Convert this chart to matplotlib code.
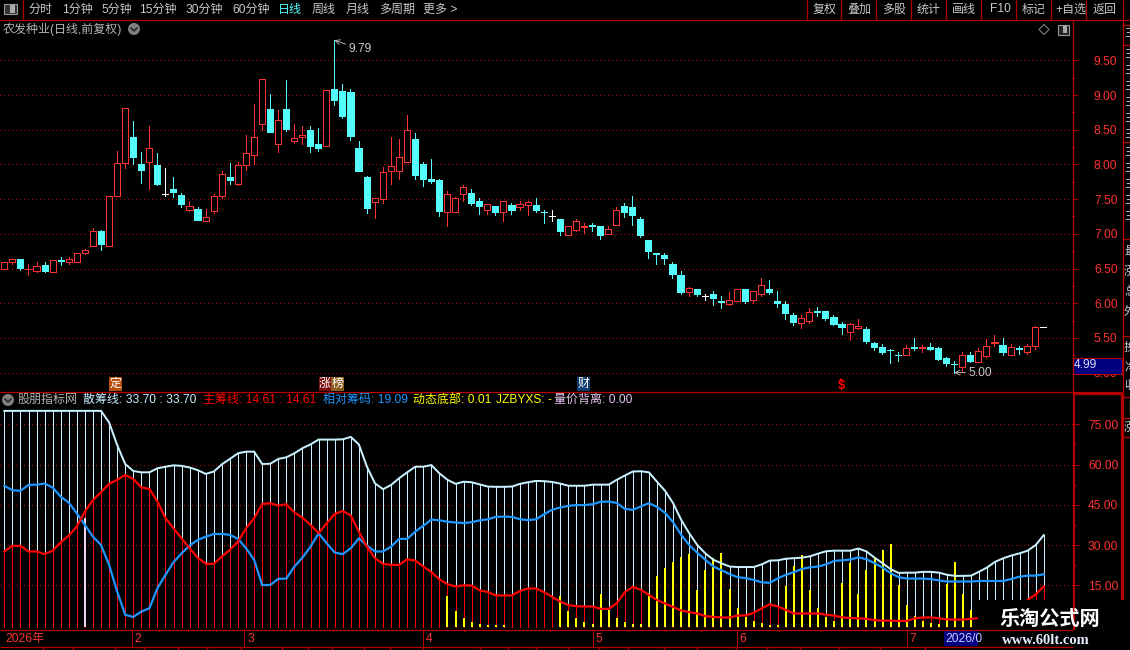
#!/usr/bin/env python3
# -*- coding: utf-8 -*-

import numpy as np
from matplotlib import pyplot as plt
from matplotlib.patches import Rectangle, Circle, Polygon

plt.rcParams['font.family'] = ['Liberation Sans', 'Noto Sans CJK SC']

W, H = 1130, 650

opens = [6.49, 6.60, 6.64, 6.49, 6.47, 6.55, 6.45, 6.62, 6.60, 6.60,
         6.72, 6.82, 7.04, 6.83, 7.54, 8.02, 8.40, 8.01, 8.04, 7.99,
         7.58, 7.64, 7.56, 7.35, 7.36, 7.19, 7.33, 7.55, 7.82, 7.72,
         7.99, 8.14, 8.58, 8.80, 8.29, 8.80, 8.34, 8.39, 8.50, 8.29,
         8.27, 9.09, 9.06, 9.04, 8.24, 7.82, 7.46, 7.50, 7.91, 7.91,
         8.03, 8.37, 8.01, 7.79, 7.78, 7.32, 7.32, 7.58, 7.59, 7.48,
         7.34, 7.40, 7.31, 7.42, 7.39, 7.41, 7.41, 7.32, 7.25, 7.21,
         6.98, 7.05, 7.10, 7.12, 7.11, 7.00, 7.13, 7.40, 7.38, 7.21,
         6.91, 6.72, 6.69, 6.56, 6.40, 6.16, 6.20, 6.11, 6.13, 6.03,
         5.99, 6.03, 6.20, 6.04, 6.13, 6.20, 6.03, 5.99, 5.83, 5.71,
         5.75, 5.89, 5.89, 5.80, 5.70, 5.59, 5.65, 5.63, 5.43, 5.37,
         5.33, 5.26, 5.25, 5.37, 5.35, 5.37, 5.36, 5.21, 5.13, 5.08,
         5.26, 5.16, 5.24, 5.42, 5.40, 5.26, 5.35, 5.30, 5.39, 5.66]
closes = [6.60, 6.63, 6.51, 6.50, 6.53, 6.47, 6.62, 6.61, 6.64, 6.73,
          6.76, 7.04, 6.85, 7.54, 8.02, 8.82, 8.11, 7.92, 8.23, 7.72,
          7.58, 7.60, 7.43, 7.40, 7.20, 7.24, 7.54, 7.86, 7.78, 7.99,
          8.17, 8.39, 9.23, 8.47, 8.64, 8.51, 8.38, 8.43, 8.27, 8.24,
          9.07, 8.93, 8.70, 8.41, 7.91, 7.37, 7.51, 7.89, 7.97, 8.10,
          8.49, 7.85, 7.79, 7.76, 7.33, 7.58, 7.51, 7.67, 7.44, 7.40,
          7.43, 7.31, 7.47, 7.34, 7.43, 7.46, 7.34, 7.31, 7.25, 7.04,
          7.11, 7.18, 7.11, 7.11, 6.98, 7.07, 7.35, 7.31, 7.27, 6.98,
          6.75, 6.71, 6.65, 6.42, 6.16, 6.22, 6.13, 6.11, 6.07, 6.02,
          6.05, 6.20, 6.03, 6.17, 6.26, 6.16, 6.01, 5.86, 5.73, 5.78,
          5.88, 5.88, 5.79, 5.70, 5.66, 5.70, 5.67, 5.46, 5.37, 5.30,
          5.32, 5.25, 5.35, 5.36, 5.37, 5.34, 5.20, 5.14, 5.12, 5.25,
          5.17, 5.31, 5.39, 5.44, 5.30, 5.37, 5.34, 5.39, 5.66, 5.66]
highs = [6.60, 6.63, 6.64, 6.57, 6.59, 6.60, 6.62, 6.67, 6.66, 6.73,
         6.78, 7.08, 7.06, 7.54, 8.19, 8.82, 8.63, 8.18, 8.55, 8.16,
         7.95, 7.82, 7.59, 7.47, 7.39, 7.36, 7.57, 7.90, 8.02, 8.03,
         8.43, 8.87, 9.23, 9.01, 8.78, 9.22, 8.58, 8.55, 8.55, 8.52,
         9.07, 9.79, 9.16, 9.09, 8.34, 7.83, 7.51, 7.96, 8.40, 8.37,
         8.71, 8.45, 8.04, 8.08, 7.79, 7.62, 7.53, 7.70, 7.65, 7.52,
         7.43, 7.40, 7.47, 7.44, 7.47, 7.47, 7.51, 7.34, 7.34, 7.22,
         7.11, 7.21, 7.15, 7.15, 7.11, 7.11, 7.38, 7.45, 7.54, 7.24,
         6.91, 6.73, 6.72, 6.59, 6.46, 6.24, 6.21, 6.13, 6.18, 6.11,
         6.16, 6.20, 6.20, 6.17, 6.37, 6.34, 6.18, 6.03, 5.86, 5.83,
         5.93, 5.95, 5.89, 5.83, 5.73, 5.72, 5.77, 5.66, 5.44, 5.41,
         5.34, 5.30, 5.40, 5.50, 5.40, 5.43, 5.37, 5.23, 5.17, 5.30,
         5.30, 5.36, 5.49, 5.54, 5.50, 5.41, 5.39, 5.41, 5.67, 5.66]
lows = [6.49, 6.56, 6.48, 6.41, 6.45, 6.45, 6.45, 6.55, 6.57, 6.60,
        6.71, 6.82, 6.77, 6.83, 7.54, 7.95, 8.01, 7.73, 7.65, 7.70,
        7.55, 7.53, 7.39, 7.33, 7.20, 7.19, 7.30, 7.52, 7.72, 7.71,
        7.92, 8.00, 8.49, 8.47, 8.18, 8.48, 8.31, 8.29, 8.18, 8.19,
        8.27, 8.86, 8.67, 8.35, 7.91, 7.30, 7.23, 7.44, 7.72, 7.79,
        8.03, 7.79, 7.69, 7.73, 7.26, 7.11, 7.32, 7.47, 7.42, 7.29,
        7.28, 7.27, 7.19, 7.28, 7.34, 7.27, 7.31, 7.16, 7.18, 6.98,
        6.98, 7.04, 7.01, 7.04, 6.93, 7.00, 7.13, 7.24, 7.12, 6.96,
        6.65, 6.56, 6.56, 6.36, 6.14, 6.10, 6.10, 6.04, 5.98, 5.93,
        5.97, 6.03, 6.00, 6.00, 6.10, 6.13, 5.95, 5.77, 5.69, 5.64,
        5.72, 5.82, 5.76, 5.69, 5.56, 5.47, 5.63, 5.43, 5.33, 5.27,
        5.14, 5.17, 5.25, 5.33, 5.30, 5.33, 5.18, 5.10, 5.00, 5.02,
        5.15, 5.15, 5.23, 5.39, 5.26, 5.26, 5.27, 5.27, 5.34, 5.66]

# 散筹线
scatter_line = [80, 80, 80, 80, 80, 80, 80, 80, 80, 80,
                80, 80, 80, 75.7, 67.3, 60.2, 57.6, 57.1, 57.1, 58.6,
                59.2, 59.7, 59.5, 58.9, 57.9, 56.5, 57.4, 60.1, 62.1, 64.2,
                64.8, 64.8, 60.2, 60.3, 62.1, 62.7, 64.2, 66.1, 67.5, 69.3,
                69.3, 69.3, 69.4, 70.3, 67.5, 59.2, 53.0, 50.8, 52.4, 54.9,
                57.1, 59.2, 59.2, 59.8, 56.7, 54.3, 52.8, 53.6, 53.4, 52.6,
                51.8, 51.7, 51.7, 51.8, 52.8, 53.4, 53.9, 53.8, 53.5, 52.9,
                52.1, 52.1, 52.1, 52.5, 52.5, 52.5, 54.3, 55.9, 57.4, 57.5,
                57.1, 53.6, 50.2, 45.6, 39.4, 34.4, 30.0, 26.9, 24.5, 23.2,
                22.0, 21.8, 21.8, 21.8, 22.8, 24.2, 24.3, 24.9, 25.1, 25.3,
                25.8, 26.8, 27.7, 27.9, 27.9, 27.9, 28.7, 27.6, 25.3, 23.2,
                21.0, 19.6, 19.7, 19.7, 20.0, 20.0, 19.7, 18.9, 18.5, 18.5,
                18.6, 20.1, 21.7, 23.8, 25.1, 26.1, 26.9, 27.9, 30.0, 33.7]
# 主筹线
main_line = [27.6, 29.7, 29.7, 27.6, 27.6, 26.6, 27.9, 31.0, 33.5, 36.9,
             42.5, 46.8, 49.7, 52.8, 54.3, 56.1, 54.6, 51.5, 50.9, 46.2,
             40.0, 36.2, 32.5, 28.8, 25.3, 23.0, 23.0, 25.7, 28.2, 31.3,
             36.2, 40.0, 45.3, 45.6, 44.7, 45.2, 42.1, 40.2, 37.5, 34.4,
             38.1, 41.6, 42.7, 41.0, 35.0, 29.4, 25.1, 23.0, 22.6, 22.6,
             24.7, 24.2, 22.0, 19.9, 17.2, 15.4, 14.5, 15.0, 14.9, 13.1,
             12.5, 11.2, 11.2, 11.2, 12.9, 13.8, 13.8, 12.4, 10.7, 8.9,
             7.6, 7.2, 7.1, 7.1, 6.2, 6.2, 8.3, 12.4, 14.4, 13.3,
             11.4, 9.5, 8.2, 6.9, 5.6, 5.0, 4.5, 3.5, 3.2, 3.0,
             3.0, 3.7, 3.8, 4.7, 6.4, 7.9, 7.1, 5.8, 4.5, 4.5,
             4.5, 4.5, 4.0, 3.7, 3.0, 2.8, 2.7, 2.5, 2.0, 1.8,
             1.8, 1.7, 1.7, 2.7, 3.0, 3.0, 2.7, 2.3, 2.2, 2.2,
             2.5, 2.8, 3.0, 3.6, 4.5, 5.8, 7.5, 9.5, 11.6, 14.61]
# 相对筹码
relative_line = [52.1, 50.4, 50.2, 52.4, 52.5, 52.9, 51.4, 48.0, 45.8, 41.8,
                 37.5, 33.1, 30.0, 22.6, 12.7, 4.0, 3.2, 5.2, 6.4, 13.9,
                 18.9, 23.6, 26.9, 29.8, 31.9, 33.1, 34.1, 34.1, 33.8, 32.3,
                 28.8, 24.5, 15.1, 15.1, 17.4, 17.5, 22.0, 25.3, 29.4, 34.4,
                 30.7, 27.2, 26.6, 28.8, 32.5, 29.8, 27.6, 27.6, 29.4, 32.3,
                 32.3, 35.0, 37.2, 39.5, 39.2, 38.7, 38.4, 38.2, 38.5, 39.2,
                 39.6, 40.5, 40.6, 40.5, 39.6, 39.3, 39.6, 41.5, 43.2, 44.0,
                 44.6, 44.9, 44.9, 45.2, 46.1, 46.2, 45.7, 43.5, 43.1, 44.4,
                 45.6, 44.2, 42.0, 38.5, 33.8, 30.0, 27.1, 24.5, 22.0, 20.6,
                 19.2, 18.0, 17.7, 17.0, 16.1, 15.9, 17.6, 18.9, 19.9, 21.1,
                 21.7, 22.0, 22.8, 24.1, 24.3, 24.6, 25.4, 24.7, 23.2, 21.6,
                 19.5, 18.0, 17.5, 17.5, 17.5, 17.3, 16.8, 16.4, 16.4, 16.4,
                 16.4, 16.6, 16.6, 16.6, 16.6, 17.4, 18.2, 18.6, 18.6, 19.09]
# 动态底部
bottom_bars = [0, 0, 0, 0, 0, 0, 0, 0, 0, 0,
               0, 0, 0, 0, 0, 0, 0, 0, 0, 0,
               0, 0, 0, 0, 0, 0, 0, 0, 0, 0,
               0, 0, 0, 0, 0, 0, 0, 0, 0, 0,
               0, 0, 0, 0, 0, 0, 0, 0, 0, 0,
               0, 0, 0, 0, 0, 11.0, 5.4, 2.8, 1.3, 0.6,
               0.2, 0.2, 0.2, 0, 0, 0, 0, 0, 0, 11.0,
               5.4, 2.8, 1.3, 0.6, 11.8, 5.8, 2.8, 1.3, 0.6, 0.5,
               12.2, 18.5, 21.5, 23.7, 25.6, 26.7, 13.3, 20.7, 25.2, 27.1,
               13.6, 6.6, 3.2, 1.7, 1.0, 0.2, 0.2, 14.8, 22.2, 26.3,
               13.3, 6.6, 3.2, 1.7, 15.9, 23.3, 11.8, 20.7, 25.6, 28.2,
               30.4, 15.1, 7.7, 3.6, 1.7, 1.0, 0.6, 15.5, 23.7, 11.8,
               5.8, 0, 0, 0, 0, 0, 0, 0, 0, 0]
# 量价背离
divergence_index = [10]
divergence_value = [40.0]

price_ticks = [5.0, 5.5, 6.0, 6.5, 7.0, 7.5, 8.0, 8.5, 9.0, 9.5]
price_minor = [5.25, 5.75, 6.25, 6.75, 7.25, 7.75, 8.25, 8.75, 9.25]
chip_ticks = [15, 30, 45, 60, 75]
chip_minor = [22.5, 37.5, 52.5, 67.5]

month_pos = [15.8, 29.8, 51.9, 73.0, 90.9, 112.0]
month_labels = ['2', '3', '4', '5', '6', '7']
week_pos = [19.2, 22.8, 26.3, 35.4, 40.8, 46.4, 57.1, 62.4, 67.7, 77.4, 82.0, 86.5, 96.1, 101.4, 106.8]

tools_left = ['分时', '1分钟', '5分钟', '15分钟', '30分钟', '60分钟', '日线', '周线', '月线', '多周期', '更多 >']
tools_left_x = [28, 62, 101, 139, 186, 232, 278, 312, 346, 379, 423]
tools_right = ['复权', '叠加', '多股', '统计', '画线', 'F10', '标记', '+自选', '返回']
tools_right_x = [813, 847, 882, 917, 952, 990, 1022, 1055, 1093]
tools_sep = [23, 807, 841, 876, 911, 946, 981, 1016, 1051, 1086, 1123]

legend_parts = ['股朋指标网', '散筹线: 33.70 : 33.70', '主筹线: 14.61 : 14.61',
                '相对筹码: 19.09', '动态底部: 0.01', 'JZBYXS: -', '量价背离: 0.00']
legend_x = [18, 83, 203, 323, 413, 496, 554]
legend_col = ['#B4B4B4', '#C8F0FF', '#FF0000', '#1E96FF', '#FFFF00', '#FFFF00', '#E6C8F0']

side_text = ['主', '主', '主', '主', '主', '主', '主', '主', '主', '主', '主', '主',
             '最', '涨', '总', '外', '换', '净', '收']
side_y = [33, 54, 70, 86, 102, 118, 134, 152, 168, 184, 200, 216,
          252, 272, 292, 312, 348, 368, 386]
side_sep = [25, 45, 142, 239, 336, 397, 418, 437]
strip_sep = [42.5, 73, 115, 144, 177.5, 207, 241, 282, 308, 332, 364, 390, 423, 480, 508,
             536, 568, 599, 628, 664, 697, 736, 767, 800, 839, 880, 925]

RED = '#FF3232'
CYAN = '#54FCFC'
LINE = '#B40000'
GRID = '#B00000'
BASE = -0.4
FS = 8.64


def px_axes(x0, y0, x1, y1, **kw):
    return fig.add_axes([x0 / W, 1 - y1 / H, (x1 - x0) / W, (y1 - y0) / H], **kw)


fig = plt.figure(figsize=(W / 100, H / 100), dpi=100, facecolor='black')

idx = np.arange(len(opens))
xlim = (-0.538, 132.63)

# ---- Kurs ----
ax1 = px_axes(0, 19.5, 1072, 391.5)
ax1.set_xlim(xlim)
ax1.set_ylim(4.728, 10.088)

# ---- Indikator ----
ax2 = px_axes(0, 392, 1073, 630)
ax2.set_xlim(xlim)
ax2.set_ylim(-1.67, 87.04)

for ax in (ax1, ax2):
    ax.set_facecolor('black')
    for s in ax.spines.values():
        s.set_visible(False)
    ax.yaxis.tick_right()

ax1.set_yticks(price_ticks, labels=['%.2f' % v for v in price_ticks])
ax1.set_yticks(price_minor, minor=True)
ax2.set_yticks(chip_ticks, labels=['%.2f' % v for v in chip_ticks])
ax2.set_yticks(chip_minor, minor=True)
ax1.tick_params(axis='y', which='major', length=4.3, width=0.72, color=LINE,
                labelcolor=RED, labelsize=FS, pad=11.5)
ax2.tick_params(axis='y', which='major', length=4.3, width=0.72, color=LINE,
                labelcolor=RED, labelsize=FS, pad=6.5)
for ax in (ax1, ax2):
    ax.tick_params(axis='y', which='minor', length=2.2, width=0.72, color=LINE)
    ax.grid(axis='y', which='major', color=GRID, lw=0.72, ls=(0, (1, 4)), antialiased=False)
    ax.set_axisbelow(True)

ax1.set_xticks([])
ax2.set_xticks(month_pos, labels=[])
ax2.set_xticks(week_pos, minor=True)
ax2.tick_params(axis='x', which='major', length=12.2, width=0.72, color=LINE)
ax2.tick_params(axis='x', which='minor', length=1.5, width=0.72, color=LINE)

# Candles
for i in idx:
    o, c, h, l = opens[i], closes[i], highs[i], lows[i]
    top, bot = max(o, c), min(o, c)
    if c > o:
        col, face = RED, 'black'
    elif c < o:
        col, face = CYAN, CYAN
    else:
        col, face = 'white', 'white'
    ax1.vlines(i, top, h, color=col, lw=0.72, antialiased=False, zorder=2)
    ax1.vlines(i, l, bot, color=col, lw=0.72, antialiased=False, zorder=2)
    ax1.bar(i, top - bot, 0.76, bot, facecolor=face, edgecolor=col, lw=0.72,
            antialiased=False, zorder=3)

ax1.annotate('9.79', xy=(41, 9.79), xytext=(14, -9), textcoords='offset pixels',
             color='#C8C8C8', fontsize=FS, va='center',
             arrowprops=dict(arrowstyle='->', color='#C8C8C8', lw=0.6, shrinkA=0, shrinkB=0))
ax1.annotate('5.00', xy=(118, 5.0), xytext=(14, 0), textcoords='offset pixels',
             color='#C8C8C8', fontsize=FS, va='center',
             arrowprops=dict(arrowstyle='->', color='#C8C8C8', lw=0.6, shrinkA=0, shrinkB=0))

# Saeulen
scatter_arr = np.array(scatter_line)
main_arr = np.array(main_line)
bottom_arr = np.array(bottom_bars)
ax2.vlines(idx, main_arr, scatter_arr, color='#C8F0FF', lw=0.72, antialiased=False, zorder=2)
ax2.vlines(idx, BASE, main_arr, color='#FF0000', lw=0.72, antialiased=False, zorder=2)
ax2.vlines(divergence_index, BASE, divergence_value, color='#F0D0F0', lw=1.44,
           antialiased=False, zorder=3)
mask = bottom_arr > 0
ax2.vlines(idx[mask], BASE, bottom_arr[mask], color='#FFFF00', lw=1.44, antialiased=False, zorder=3)

# Linien
ax2.plot(idx, scatter_arr, color='#C8F0FF', lw=1.44, zorder=4)
ax2.plot(idx, relative_line, color='#1E96FF', lw=1.6, zorder=5)
ax2.plot(idx, main_arr, color='#FF0000', lw=1.6, zorder=6)

for pos, lab in zip(month_pos, month_labels):
    ax2.annotate(lab, xy=(pos, 0), xycoords=ax2.get_xaxis_transform(), xytext=(3, -9),
                 textcoords='offset pixels', color=RED, fontsize=FS, va='center')
ax2.annotate('2026年', xy=(xlim[0], 0), xycoords=ax2.get_xaxis_transform(), xytext=(5, -9),
             textcoords='offset pixels', color=RED, fontsize=FS, va='center')

# ---- Rahmen, Pixelkoordinaten ----
ui = fig.add_axes([0, 0, 1, 1], zorder=10)
ui.set_xlim(0, W)
ui.set_ylim(H, 0)
ui.axis('off')
ui.patch.set_alpha(0)

ui.hlines(19.5, 0, 1130, color=LINE, lw=0.9)
ui.vlines(tools_sep, 0, 19, color=LINE, lw=0.9)
ui.vlines(1072.5, 19.5, 392, color=LINE, lw=0.9)
ui.vlines(1122.5, 19.5, 600, color=LINE, lw=1.0)
ui.hlines(391.5, 0, 1122, color=LINE, lw=0.9)
ui.hlines(393.5, 1073, 1122, color=LINE, lw=1.6)
ui.vlines(1073.5, 393, 630, color=LINE, lw=1.6)
ui.vlines(1122, 393, 600, color=LINE, lw=1.6)
ui.hlines([630, 647], 0, 1073, color=LINE, lw=0.9)
ui.vlines(strip_sep, 647, 650, color=LINE, lw=0.9)
ui.hlines(side_sep, 1122, 1130, color=LINE, lw=0.9)

# Werkzeugleiste
ui.add_patch(Rectangle((3.5, 4), 13, 10, fc='#333333', ec='#999999', lw=0.8))
ui.add_patch(Rectangle((10, 5), 5, 8, fc='#AAAAAA', ec='none'))
for t, x in zip(tools_left, tools_left_x):
    ui.text(x, 9.5, t, color=CYAN if t == '日线' else '#C8C8C8', fontsize=FS, va='center')
for t, x in zip(tools_right, tools_right_x):
    ui.text(x, 9.5, t, color='#C8C8C8', fontsize=FS, va='center')

ui.text(3, 29, '农发种业(日线,前复权)', color='#B4B4B4', fontsize=FS, va='center')
for cx, cy in [(134, 29), (8, 400)]:
    ui.add_patch(Circle((cx, cy), 6, fc='#808080', ec='none'))
    ui.plot([cx - 3, cx, cx + 3], [cy - 1, cy + 2, cy - 1], color='#222222', lw=1.1)
ui.add_patch(Polygon([(1044, 24.5), (1049, 29.5), (1044, 34.5), (1039, 29.5)], fc='none', ec='#808080', lw=0.8))
ui.add_patch(Rectangle((1057.5, 24.5), 11, 10, fc='#222222', ec='#999999', lw=0.8))
ui.add_patch(Rectangle((1063, 26), 4, 7, fc='#AAAAAA', ec='none'))

# Legende
for t, x, c in zip(legend_parts, legend_x, legend_col):
    ui.text(x, 400, t, color=c, fontsize=FS, va='center')

# Marken
for x0, x1, col, t in [(109, 122, '#B8500F', '定'), (319, 331, '#7A0C0C', '涨'),
                       (331, 344, '#8B5A1E', '榜'), (577, 590, '#0F3C6E', '财')]:
    ui.add_patch(Rectangle((x0, 377), x1 - x0, 13.5, fc=col, ec='none'))
    ui.text((x0 + x1) / 2, 384, t, color='white', fontsize=FS, ha='center', va='center')
ui.text(841, 386, '$', color='#FF0000', fontsize=9.5, fontweight='bold', ha='center', va='center')
ui.add_patch(Polygon([(838.5, 380.5), (843.5, 380.5), (841, 378)], fc='#FF0000', ec='none'))

# Aktueller Kurs
ui.add_patch(Rectangle((1073, 357.5), 49, 16, fc='#000080', ec='#B40000', lw=0.8))
ui.text(1074, 365.5, '4.99', color='#DCDCFF', fontsize=FS, va='center')

# Datumsbox
ui.add_patch(Rectangle((944, 631), 36, 15, fc='#000080', ec='none'))
ui.text(945, 638.5, '2026/0', color='#C8C8FF', fontsize=FS, va='center')

# rechte Spalte
for t, y in zip(side_text, side_y):
    ui.text(1124, y, t, color='#C8C8C8', fontsize=FS, va='center')
ui.text(1127, 408, '目', color='#FFFF64', fontsize=FS, va='center')
ui.text(1124, 428, '涨', color='#C8C8C8', fontsize=FS, va='center')

# Wasserzeichen
ui.add_patch(Rectangle((978, 600), 152, 50, fc='black', ec='none'))
ui.text(1050, 619, '乐淘公式网', color='white', fontsize=14.5, fontweight='bold',
        ha='center', va='center')
ui.text(1046, 640, 'www.60lt.com', color='#E6ECFF', fontsize=10.5, fontweight='bold',
        family='Liberation Serif', ha='center', va='center')

fig.savefig('out.png', dpi=100, facecolor='black')
